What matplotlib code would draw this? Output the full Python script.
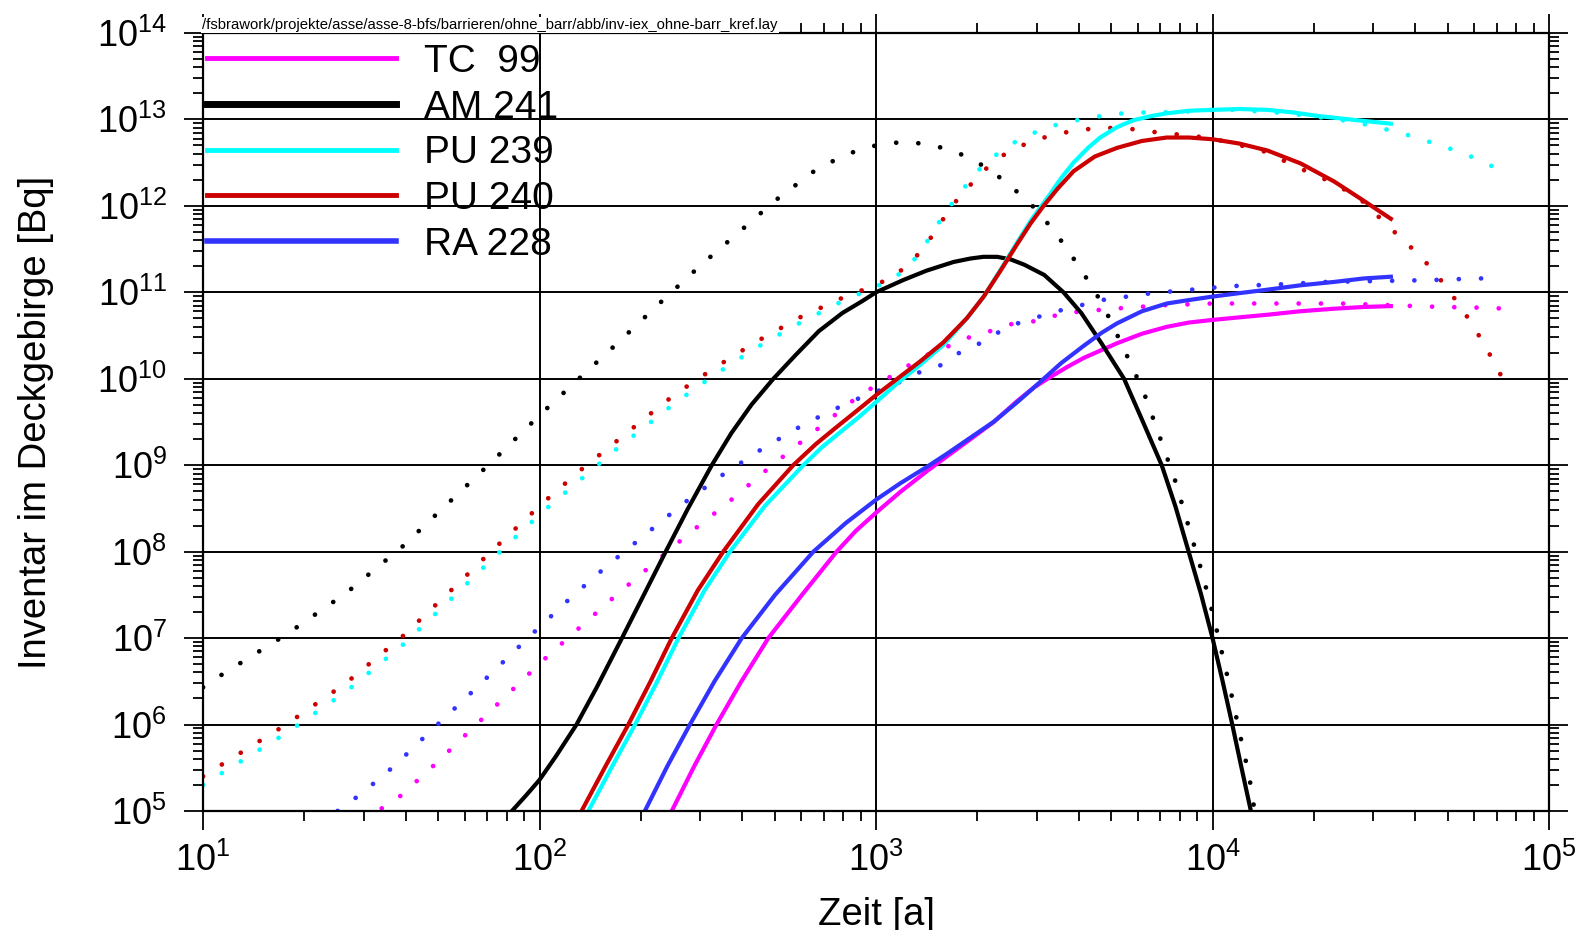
import numpy as np
import matplotlib
matplotlib.use('Agg')
import matplotlib.pyplot as plt
from matplotlib.lines import Line2D
from matplotlib.ticker import LogLocator, NullFormatter
from matplotlib import font_manager

plt.rcParams['font.family'] = ['Liberation Sans', 'DejaVu Sans']
plt.rcParams['mathtext.default'] = 'regular'

# --- Daten: log10(Zeit [a]) und log10(Inventar [Bq]) ---
# durchgezogene Kurven
tc99_lt = [2.393, 2.46, 2.526, 2.60, 2.68, 2.78, 2.883, 2.94, 3.0, 3.072, 3.151, 3.21,
           3.27, 3.35, 3.419, 3.47, 3.518, 3.57, 3.617, 3.716, 3.79, 3.864, 3.93, 4.0,
           4.08, 4.163, 4.26, 4.362, 4.45, 4.53]
tc99_lv = [5.0, 5.52, 6.0, 6.5, 7.0, 7.5, 8.0, 8.24, 8.45, 8.69, 8.93, 9.10,
           9.27, 9.50, 9.74, 9.90, 10.02, 10.14, 10.24, 10.41, 10.52, 10.60, 10.65, 10.68,
           10.71, 10.74, 10.78, 10.81, 10.83, 10.84]

am241_lt = [1.918, 1.96, 2.0, 2.05, 2.11, 2.17, 2.245, 2.31, 2.375, 2.44, 2.512, 2.57,
            2.63, 2.695, 2.76, 2.83, 2.90, 2.96, 3.0, 3.08, 3.15, 3.23, 3.28, 3.319,
            3.36, 3.40, 3.44, 3.50, 3.557, 3.61, 3.67, 3.737, 3.79, 3.849, 3.89, 3.929,
            3.965, 4.0, 4.03, 4.057, 4.085, 4.114]
am241_lv = [5.0, 5.18, 5.36, 5.64, 6.0, 6.43, 7.0, 7.5, 8.0, 8.49, 9.0, 9.37,
            9.70, 10.0, 10.27, 10.55, 10.76, 10.90, 11.0, 11.14, 11.25, 11.35, 11.39, 11.41,
            11.41, 11.38, 11.32, 11.2, 11.0, 10.76, 10.41, 10.0, 9.53, 9.0, 8.52, 8.0,
            7.52, 7.0, 6.5, 6.03, 5.52, 5.0]

pu239_lt = [2.145, 2.215, 2.284, 2.35, 2.413, 2.49, 2.566, 2.67, 2.784, 2.84, 2.89, 2.95,
            3.0, 3.07, 3.131, 3.2, 3.27, 3.32, 3.37, 3.42, 3.46, 3.518, 3.55, 3.587,
            3.63, 3.666, 3.716, 3.765, 3.82, 3.864, 3.93, 4.0, 4.08, 4.163, 4.24, 4.312,
            4.43, 4.53]
pu239_lv = [5.0, 5.51, 6.0, 6.5, 7.0, 7.55, 8.0, 8.53, 9.0, 9.21, 9.37, 9.56,
            9.73, 9.97, 10.16, 10.39, 10.70, 10.95, 11.26, 11.58, 11.83, 12.14, 12.32, 12.50,
            12.67, 12.79, 12.91, 12.99, 13.04, 13.07, 13.10, 13.11, 13.12, 13.11, 13.08, 13.04,
            12.99, 12.95]

pu240_lt = [2.125, 2.195, 2.264, 2.33, 2.393, 2.47, 2.546, 2.65, 2.754, 2.82, 2.873, 2.94,
            3.0, 3.07, 3.131, 3.2, 3.27, 3.32, 3.37, 3.42, 3.46, 3.498, 3.54, 3.587,
            3.65, 3.716, 3.79, 3.864, 3.93, 4.0, 4.08, 4.163, 4.262, 4.362, 4.441, 4.53]
pu240_lv = [5.0, 5.51, 6.0, 6.5, 7.0, 7.55, 8.0, 8.55, 9.0, 9.24, 9.41, 9.62,
            9.81, 10.02, 10.20, 10.42, 10.70, 10.95, 11.25, 11.56, 11.80, 12.0, 12.20, 12.40,
            12.57, 12.67, 12.75, 12.79, 12.79, 12.77, 12.72, 12.64, 12.49, 12.28, 12.08, 11.85]

ra228_lt = [2.313, 2.38, 2.447, 2.52, 2.601, 2.70, 2.814, 2.91, 3.0, 3.072, 3.151, 3.21,
            3.27, 3.349, 3.42, 3.487, 3.55, 3.617, 3.67, 3.716, 3.79, 3.864, 3.93, 4.0,
            4.08, 4.163, 4.26, 4.362, 4.45, 4.53]
ra228_lv = [5.0, 5.52, 6.0, 6.5, 7.0, 7.5, 8.0, 8.33, 8.60, 8.79, 8.98, 9.13,
            9.29, 9.50, 9.73, 9.96, 10.18, 10.38, 10.53, 10.64, 10.78, 10.87, 10.91, 10.95,
            10.99, 11.03, 11.08, 11.12, 11.16, 11.18]

# gepunktete Kurven
tc99d_lt = [1.531, 1.589, 1.642, 1.695, 1.799, 1.903, 2.007, 2.113, 2.223, 2.332, 2.441,
            2.555, 2.667, 2.778, 2.891, 2.948, 3.071, 3.136, 3.2, 3.27, 3.339, 3.409,
            3.482, 3.557, 3.706, 3.854, 4.0, 4.233, 4.381, 4.53, 4.68, 4.829, 4.90]
tc99d_lv = [5.03, 5.18, 5.37, 5.56, 5.95, 6.34, 6.73, 7.10, 7.48, 7.84, 8.20,
            8.55, 8.92, 9.27, 9.62, 9.80, 10.09, 10.25, 10.35, 10.47, 10.55, 10.64,
            10.67, 10.76, 10.81, 10.85, 10.87, 10.87, 10.87, 10.85, 10.83, 10.82, 10.80]

am241d_lt = [1.0, 1.061, 1.247, 1.425, 1.593, 1.75, 1.853, 2.009, 2.114, 2.22, 2.378,
             2.484, 2.60, 2.70, 2.819, 2.883, 2.95, 3.022, 3.096, 3.17, 3.24, 3.307,
             3.367, 3.423, 3.478, 3.522, 3.565, 3.604, 3.641, 3.676, 3.737, 3.795,
             3.842, 3.889, 3.929, 3.968, 4.003, 4.05, 4.079, 4.109, 4.125]
am241d_lv = [6.43, 6.59, 7.04, 7.52, 8.06, 8.64, 9.02, 9.61, 9.99, 10.37, 10.95,
             11.33, 11.72, 12.06, 12.41, 12.54, 12.65, 12.72, 12.74, 12.70, 12.62, 12.49,
             12.33, 12.15, 11.95, 11.74, 11.52, 11.29, 11.07, 10.84, 10.34, 9.85,
             9.34, 8.82, 8.29, 7.77, 7.25, 6.46, 5.93, 5.40, 5.0]

pu239d_lt = [1.0, 1.061, 1.247, 1.425, 1.593, 1.75, 1.853, 2.009, 2.121, 2.233, 2.289,
             2.403, 2.522, 2.645, 2.766, 2.901, 2.967, 3.044, 3.093, 3.139, 3.175, 3.215,
             3.26, 3.304, 3.357, 3.418, 3.484, 3.554, 3.626, 3.70, 3.774, 3.848, 3.922,
             4.0, 4.074, 4.223, 4.371, 4.446, 4.52, 4.589, 4.66, 4.73, 4.80, 4.864]
pu239d_lv = [5.30, 5.45, 5.90, 6.38, 6.92, 7.50, 7.89, 8.46, 8.83, 9.20, 9.37,
             9.72, 10.05, 10.36, 10.63, 10.90, 11.01, 11.14, 11.28, 11.50, 11.74, 11.97,
             12.20, 12.41, 12.59, 12.75, 12.87, 12.96, 13.01, 13.06, 13.08, 13.08, 13.09,
             13.11, 13.11, 13.07, 13.0, 12.95, 12.88, 12.81, 12.72, 12.63, 12.52, 12.39]

pu240d_lt = [1.0, 1.061, 1.247, 1.425, 1.593, 1.75, 1.853, 2.009, 2.121, 2.233, 2.344,
             2.403, 2.522, 2.645, 2.774, 2.908, 2.977, 3.047, 3.103, 3.149, 3.188, 3.228,
             3.275, 3.324, 3.38, 3.446, 3.515, 3.589, 3.663, 3.738, 3.812, 3.886, 3.958,
             4.032, 4.163, 4.238, 4.362, 4.441, 4.54, 4.595, 4.645, 4.689, 4.73, 4.77,
             4.807, 4.841, 4.874]
pu240d_lv = [5.40, 5.55, 6.0, 6.48, 7.02, 7.60, 7.99, 8.56, 8.94, 9.29, 9.64,
             9.82, 10.13, 10.43, 10.71, 10.95, 11.05, 11.17, 11.34, 11.55, 11.78, 12.01,
             12.22, 12.42, 12.59, 12.72, 12.81, 12.87, 12.90, 12.90, 12.86, 12.83, 12.80,
             12.75, 12.62, 12.47, 12.26, 12.07, 11.70, 11.50, 11.30, 11.09, 10.87, 10.64,
             10.40, 10.16, 9.91]

ra228d_lt = [1.40, 1.46, 1.517, 1.571, 1.675, 1.779, 1.883, 1.987, 2.091, 2.202, 2.312,
             2.425, 2.541, 2.662, 2.789, 2.921, 3.059, 3.126, 3.195, 3.255, 3.321, 3.389,
             3.453, 3.527, 3.671, 3.82, 3.968, 4.045, 4.193, 4.342, 4.49, 4.64, 4.79, 4.862]
ra228d_lv = [5.0, 5.17, 5.35, 5.53, 5.92, 6.30, 6.69, 7.08, 7.46, 7.84, 8.19,
             8.55, 8.88, 9.19, 9.48, 9.73, 9.94, 10.07, 10.16, 10.32, 10.43, 10.60,
             10.68, 10.77, 10.91, 10.99, 11.04, 11.07, 11.09, 11.12, 11.13, 11.14, 11.16, 11.16]

labels = ['TC  99', 'AM 241', 'PU 239', 'PU 240', 'RA 228']
colors = ['#ff00ff', '#000000', '#00ffff', '#cc0000', '#3333ff']
solid = [(tc99_lt, tc99_lv), (am241_lt, am241_lv), (pu239_lt, pu239_lv),
         (pu240_lt, pu240_lv), (ra228_lt, ra228_lv)]
dotted = [(tc99d_lt, tc99d_lv), (am241d_lt, am241d_lv), (pu239d_lt, pu239d_lv),
          (pu240d_lt, pu240d_lv), (ra228d_lt, ra228d_lv)]

fig = plt.figure(figsize=(15.85, 9.30), dpi=100)
ax = fig.add_axes([0.1281, 0.128, 0.8492, 0.8366])
ax.set_xscale('log')
ax.set_yscale('log')

# gepunktete Linien zuerst, durchgezogene drueber
for (lt, lv), c in zip(dotted, colors):
    ax.plot(10 ** np.array(lt), 10 ** np.array(lv), color=c, lw=3.4,
            linestyle=(0, (0.01, 4.7)), dash_capstyle='round')
for (lt, lv), c in zip(solid, colors):
    ax.plot(10 ** np.array(lt), 10 ** np.array(lv), color=c, lw=3.0)

ax.set_xlim(1e1, 1e5)
ax.set_ylim(1e5, 1e14)

for axis in (ax.xaxis, ax.yaxis):
    axis.set_major_locator(LogLocator(base=10, numticks=20))
    axis.set_minor_locator(LogLocator(base=10, subs=np.arange(2, 10), numticks=20))
    axis.set_minor_formatter(NullFormatter())

ax.grid(which='major', color='black', lw=1.4)
ax.set_axisbelow(True)
for sp in ax.spines.values():
    sp.set_linewidth(1.6)

ax.tick_params(which='both', direction='out', top=True, right=True, width=1.3)
ax.tick_params(which='major', length=14, labelsize=26)
ax.tick_params(which='minor', length=7)
ax.tick_params(axis='x', which='major', pad=9)
ax.tick_params(axis='y', which='major', pad=12)

ax.set_xlabel('Zeit [a]', fontsize=27.5)
ax.set_ylabel('Inventar im Deckgebirge [Bq]', fontsize=27.5)
ax.xaxis.set_label_coords(0.5, -0.110)
ax.yaxis.set_label_coords(-0.111, 0.5)

handle_lw = [3.5, 5, 3.5, 3.5, 4]
handles = [Line2D([], [], color=c, lw=w) for c, w in zip(colors, handle_lw)]
ax.legend(handles, labels, loc='upper left', bbox_to_anchor=(0.003, 0.986),
          frameon=False, fontsize=28, handlelength=4.85, handletextpad=0.74,
          labelspacing=0.25, borderpad=0, borderaxespad=0)

# Dateipfad oben links
names = {f.name for f in font_manager.fontManager.ttflist}
if 'Liberation Sans Narrow' in names:
    path_font, path_size = 'Liberation Sans Narrow', 12.5
else:
    path_font, path_size = 'Liberation Sans', 10.7
fig.text(202 / 1585, 1 - 29 / 930,
         '/fsbrawork/projekte/asse/asse-8-bfs/barrieren/ohne_barr/abb/inv-iex_ohne-barr_kref.lay',
         fontsize=path_size, family=path_font, va='baseline', ha='left',
         bbox=dict(facecolor='white', edgecolor='none', pad=1))

fig.savefig('out.png', dpi=100)
